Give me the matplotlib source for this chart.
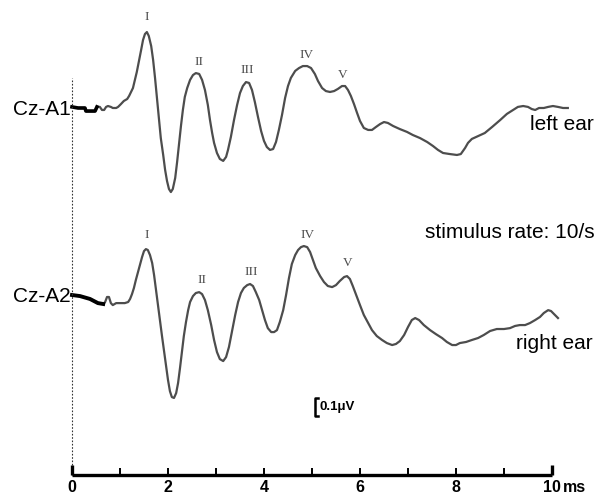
import numpy as np
from matplotlib import pyplot as plt

# time (ms) and amplitude (uV, relative to each trace's baseline)
t_left = [0, 0.125, 0.27, 0.29, 0.48, 0.52, 0.58, 0.625, 0.67, 0.71, 0.75, 0.81, 0.85, 0.92, 0.96,
          1.02, 1.08, 1.15, 1.19, 1.23, 1.27, 1.31, 1.35, 1.40, 1.44, 1.48, 1.52, 1.56, 1.60, 1.65,
          1.69, 1.73, 1.77, 1.81, 1.85, 1.90, 1.94, 1.98, 2.02, 2.06, 2.10, 2.15, 2.19, 2.23, 2.27,
          2.31, 2.35, 2.40, 2.46, 2.52, 2.58, 2.65, 2.71, 2.77, 2.83, 2.875, 2.92, 2.96, 3.02, 3.08,
          3.15, 3.21, 3.25, 3.31, 3.375, 3.44, 3.50, 3.56, 3.625, 3.69, 3.75, 3.81, 3.875, 3.94, 4.00,
          4.06, 4.125, 4.19, 4.25, 4.31, 4.375, 4.44, 4.50, 4.56, 4.65, 4.73, 4.81, 4.90, 4.98, 5.06,
          5.125, 5.21, 5.29, 5.375, 5.46, 5.54, 5.625, 5.69, 5.75, 5.81, 5.875, 5.94, 6.00, 6.08, 6.17,
          6.25, 6.33, 6.42, 6.50, 6.58, 6.69, 6.83, 6.98, 7.10, 7.25, 7.40, 7.52, 7.625, 7.73, 7.875,
          8.02, 8.10, 8.19, 8.25, 8.33, 8.46, 8.60, 8.75, 8.92, 9.06, 9.19, 9.29, 9.40, 9.50, 9.58,
          9.65, 9.73, 9.83, 9.92, 10.02, 10.125, 10.23, 10.33]
a_left = [0.006, 0, 0, -0.017, -0.017, 0.006, 0.006, -0.011, -0.011, 0.006, 0.011, 0.006, 0, 0, 0.006,
          0.022, 0.039, 0.05, 0.067, 0.089, 0.111, 0.156, 0.2, 0.267, 0.322, 0.378, 0.411, 0.422, 0.4,
          0.344, 0.267, 0.167, 0.056, -0.056, -0.167, -0.261, -0.344, -0.406, -0.45, -0.467, -0.45,
          -0.389, -0.3, -0.2, -0.1, -0.011, 0.061, 0.111, 0.156, 0.183, 0.194, 0.189, 0.156, 0.1, 0.017,
          -0.067, -0.139, -0.194, -0.25, -0.283, -0.294, -0.272, -0.233, -0.161, -0.067, 0.017, 0.083,
          0.122, 0.144, 0.139, 0.1, 0.033, -0.05, -0.128, -0.183, -0.217, -0.233, -0.228, -0.189, -0.122,
          -0.039, 0.056, 0.122, 0.167, 0.206, 0.222, 0.233, 0.233, 0.222, 0.189, 0.15, 0.111, 0.094,
          0.089, 0.094, 0.106, 0.122, 0.122, 0.1, 0.067, 0.022, -0.028, -0.072, -0.111, -0.122, -0.122,
          -0.106, -0.089, -0.078, -0.083, -0.1, -0.117, -0.133, -0.15, -0.167, -0.189, -0.211, -0.233,
          -0.25, -0.256, -0.261, -0.256, -0.222, -0.194, -0.172, -0.156, -0.139, -0.106, -0.067, -0.033,
          -0.011, 0.006, 0.011, 0.006, -0.006, -0.011, 0, 0, 0.006, 0.011, 0.006, 0, 0]

t_right = [0, 0.167, 0.375, 0.54, 0.65, 0.69, 0.73, 0.77, 0.81, 0.85, 0.92, 1.00, 1.10, 1.17, 1.21,
           1.25, 1.29, 1.33, 1.375, 1.42, 1.46, 1.50, 1.54, 1.58, 1.625, 1.67, 1.71, 1.75, 1.79, 1.83,
           1.875, 1.92, 1.96, 2.00, 2.04, 2.08, 2.125, 2.17, 2.21, 2.25, 2.29, 2.33, 2.375, 2.42, 2.46,
           2.52, 2.58, 2.65, 2.71, 2.77, 2.83, 2.90, 2.96, 3.02, 3.08, 3.15, 3.21, 3.27, 3.33, 3.40,
           3.46, 3.52, 3.58, 3.65, 3.71, 3.77, 3.83, 3.90, 3.96, 4.02, 4.08, 4.15, 4.21, 4.27, 4.33,
           4.40, 4.46, 4.52, 4.58, 4.65, 4.71, 4.77, 4.83, 4.90, 4.96, 5.02, 5.08, 5.17, 5.25, 5.33,
           5.42, 5.50, 5.58, 5.67, 5.73, 5.79, 5.85, 5.92, 6.00, 6.08, 6.17, 6.25, 6.35, 6.46, 6.56,
           6.67, 6.75, 6.83, 6.92, 7.00, 7.08, 7.15, 7.23, 7.33, 7.46, 7.58, 7.71, 7.81, 7.92, 8.00,
           8.08, 8.21, 8.33, 8.46, 8.58, 8.71, 8.85, 9.00, 9.125, 9.23, 9.33, 9.44, 9.54, 9.65, 9.75,
           9.83, 9.92, 9.98, 10.06, 10.125]
a_right = [0.028, 0.022, 0.006, -0.017, -0.022, -0.011, 0.017, 0.017, -0.017, -0.028, -0.017, -0.017,
           -0.017, -0.011, 0.006, 0.033, 0.067, 0.111, 0.156, 0.2, 0.239, 0.272, 0.283, 0.278, 0.25,
           0.206, 0.139, 0.056, -0.028, -0.111, -0.2, -0.289, -0.372, -0.444, -0.506, -0.539, -0.544,
           -0.517, -0.461, -0.378, -0.289, -0.2, -0.122, -0.056, -0.011, 0.022, 0.039, 0.044, 0.033, 0,
           -0.056, -0.139, -0.222, -0.289, -0.328, -0.339, -0.317, -0.261, -0.178, -0.083, -0.011, 0.039,
           0.067, 0.083, 0.089, 0.078, 0.044, 0, -0.056, -0.111, -0.156, -0.178, -0.178, -0.167, -0.122,
           -0.056, 0.028, 0.122, 0.2, 0.25, 0.278, 0.294, 0.3, 0.294, 0.267, 0.222, 0.178, 0.133, 0.1,
           0.078, 0.072, 0.083, 0.106, 0.128, 0.133, 0.117, 0.078, 0.028, -0.028, -0.083, -0.128, -0.167,
           -0.2, -0.222, -0.239, -0.25, -0.244, -0.228, -0.194, -0.15, -0.111, -0.1, -0.111, -0.139,
           -0.167, -0.189, -0.211, -0.233, -0.25, -0.25, -0.239, -0.233, -0.222, -0.211, -0.194, -0.172,
           -0.161, -0.161, -0.156, -0.144, -0.139, -0.139, -0.128, -0.111, -0.094, -0.072, -0.056,
           -0.061, -0.083, -0.1]

numerals = ["I", "II", "III", "IV", "V"]
num_left = [(1.5625, 2.544), (2.646, 2.294), (3.646, 2.25), (4.896, 2.333), (5.646, 2.222)]
num_right = [(1.5625, 1.333), (2.708, 1.083), (3.729, 1.128), (4.917, 1.333), (5.75, 1.178)]

ticks = list(range(0, 11))
tick_labels = ["0", "2", "4", "6", "8", "10"]

off_left = 2.039
off_right = 0.972
gray = "#4d4d4d"

fig = plt.figure(figsize=(5.96, 4.96), dpi=100)
ax = fig.add_axes([0, 0, 1, 1])
ax.set_xlim(-1.5, 10.917)
ax.set_ylim(-0.1167, 2.639)
ax.axis("off")

# traces
tl = np.array(t_left)
al = np.array(a_left) + off_left
tr = np.array(t_right)
ar = np.array(a_right) + off_right
ax.plot(tl, al, color=gray, lw=1.6, solid_joinstyle="round")
ax.plot(tl[:6], al[:6], color="black", lw=2.6)
ax.plot(tr, ar, color=gray, lw=1.6, solid_joinstyle="round")
ax.plot(tr[:5], ar[:5], color="black", lw=2.8)

for s, (x, y) in zip(numerals, num_left):
    ax.text(x, y, s, ha="center", va="center", fontsize=9.5, color=gray, family="Liberation Serif")
for s, (x, y) in zip(numerals, num_right):
    ax.text(x, y, s, ha="center", va="center", fontsize=9.5, color=gray, family="Liberation Serif")

# stimulus onset
ax.plot([0, 0], [0, 2.206], color="#333333", lw=0.8, ls=(0, (1.5, 1.5)))

# time axis
ax.plot([0, 10], [0, 0], color="black", lw=2.4, solid_capstyle="butt")
for t in ticks:
    h = 0.055 if t in (0, 10) else 0.04
    w = 2.4 if t in (0, 10) else 1.4
    ax.plot([t, t], [0, h], color="black", lw=w, solid_capstyle="butt")
for i, s in enumerate(tick_labels):
    ax.text(2 * i, -0.072, s, ha="center", va="center", fontsize=11.5, fontweight="bold",
            family="Liberation Sans")
ax.text(10.22, -0.072, "ms", ha="left", va="center", fontsize=11.5, fontweight="bold",
        family="Liberation Sans")

# scale bar
ax.plot([5.12, 5.0625, 5.0625, 5.12], [0.428, 0.428, 0.328, 0.328], color="black", lw=1.8)
ax.text(5.15, 0.38, "0.1\u03bcV", ha="left", va="center", fontsize=9.5, fontweight="bold",
        family="Liberation Sans")

# labels
ax.text(-0.03, 2.028, "Cz-A1", ha="right", va="center", fontsize=15, family="Liberation Sans")
ax.text(-0.03, 0.989, "Cz-A2", ha="right", va="center", fontsize=15, family="Liberation Sans")
ax.text(10.88, 1.95, "left ear", ha="right", va="center", fontsize=15, family="Liberation Sans")
ax.text(10.88, 1.35, "stimulus rate: 10/s", ha="right", va="center", fontsize=15,
        family="Liberation Sans")
ax.text(10.85, 0.733, "right ear", ha="right", va="center", fontsize=15, family="Liberation Sans")

fig.savefig("out.png", dpi=100)
